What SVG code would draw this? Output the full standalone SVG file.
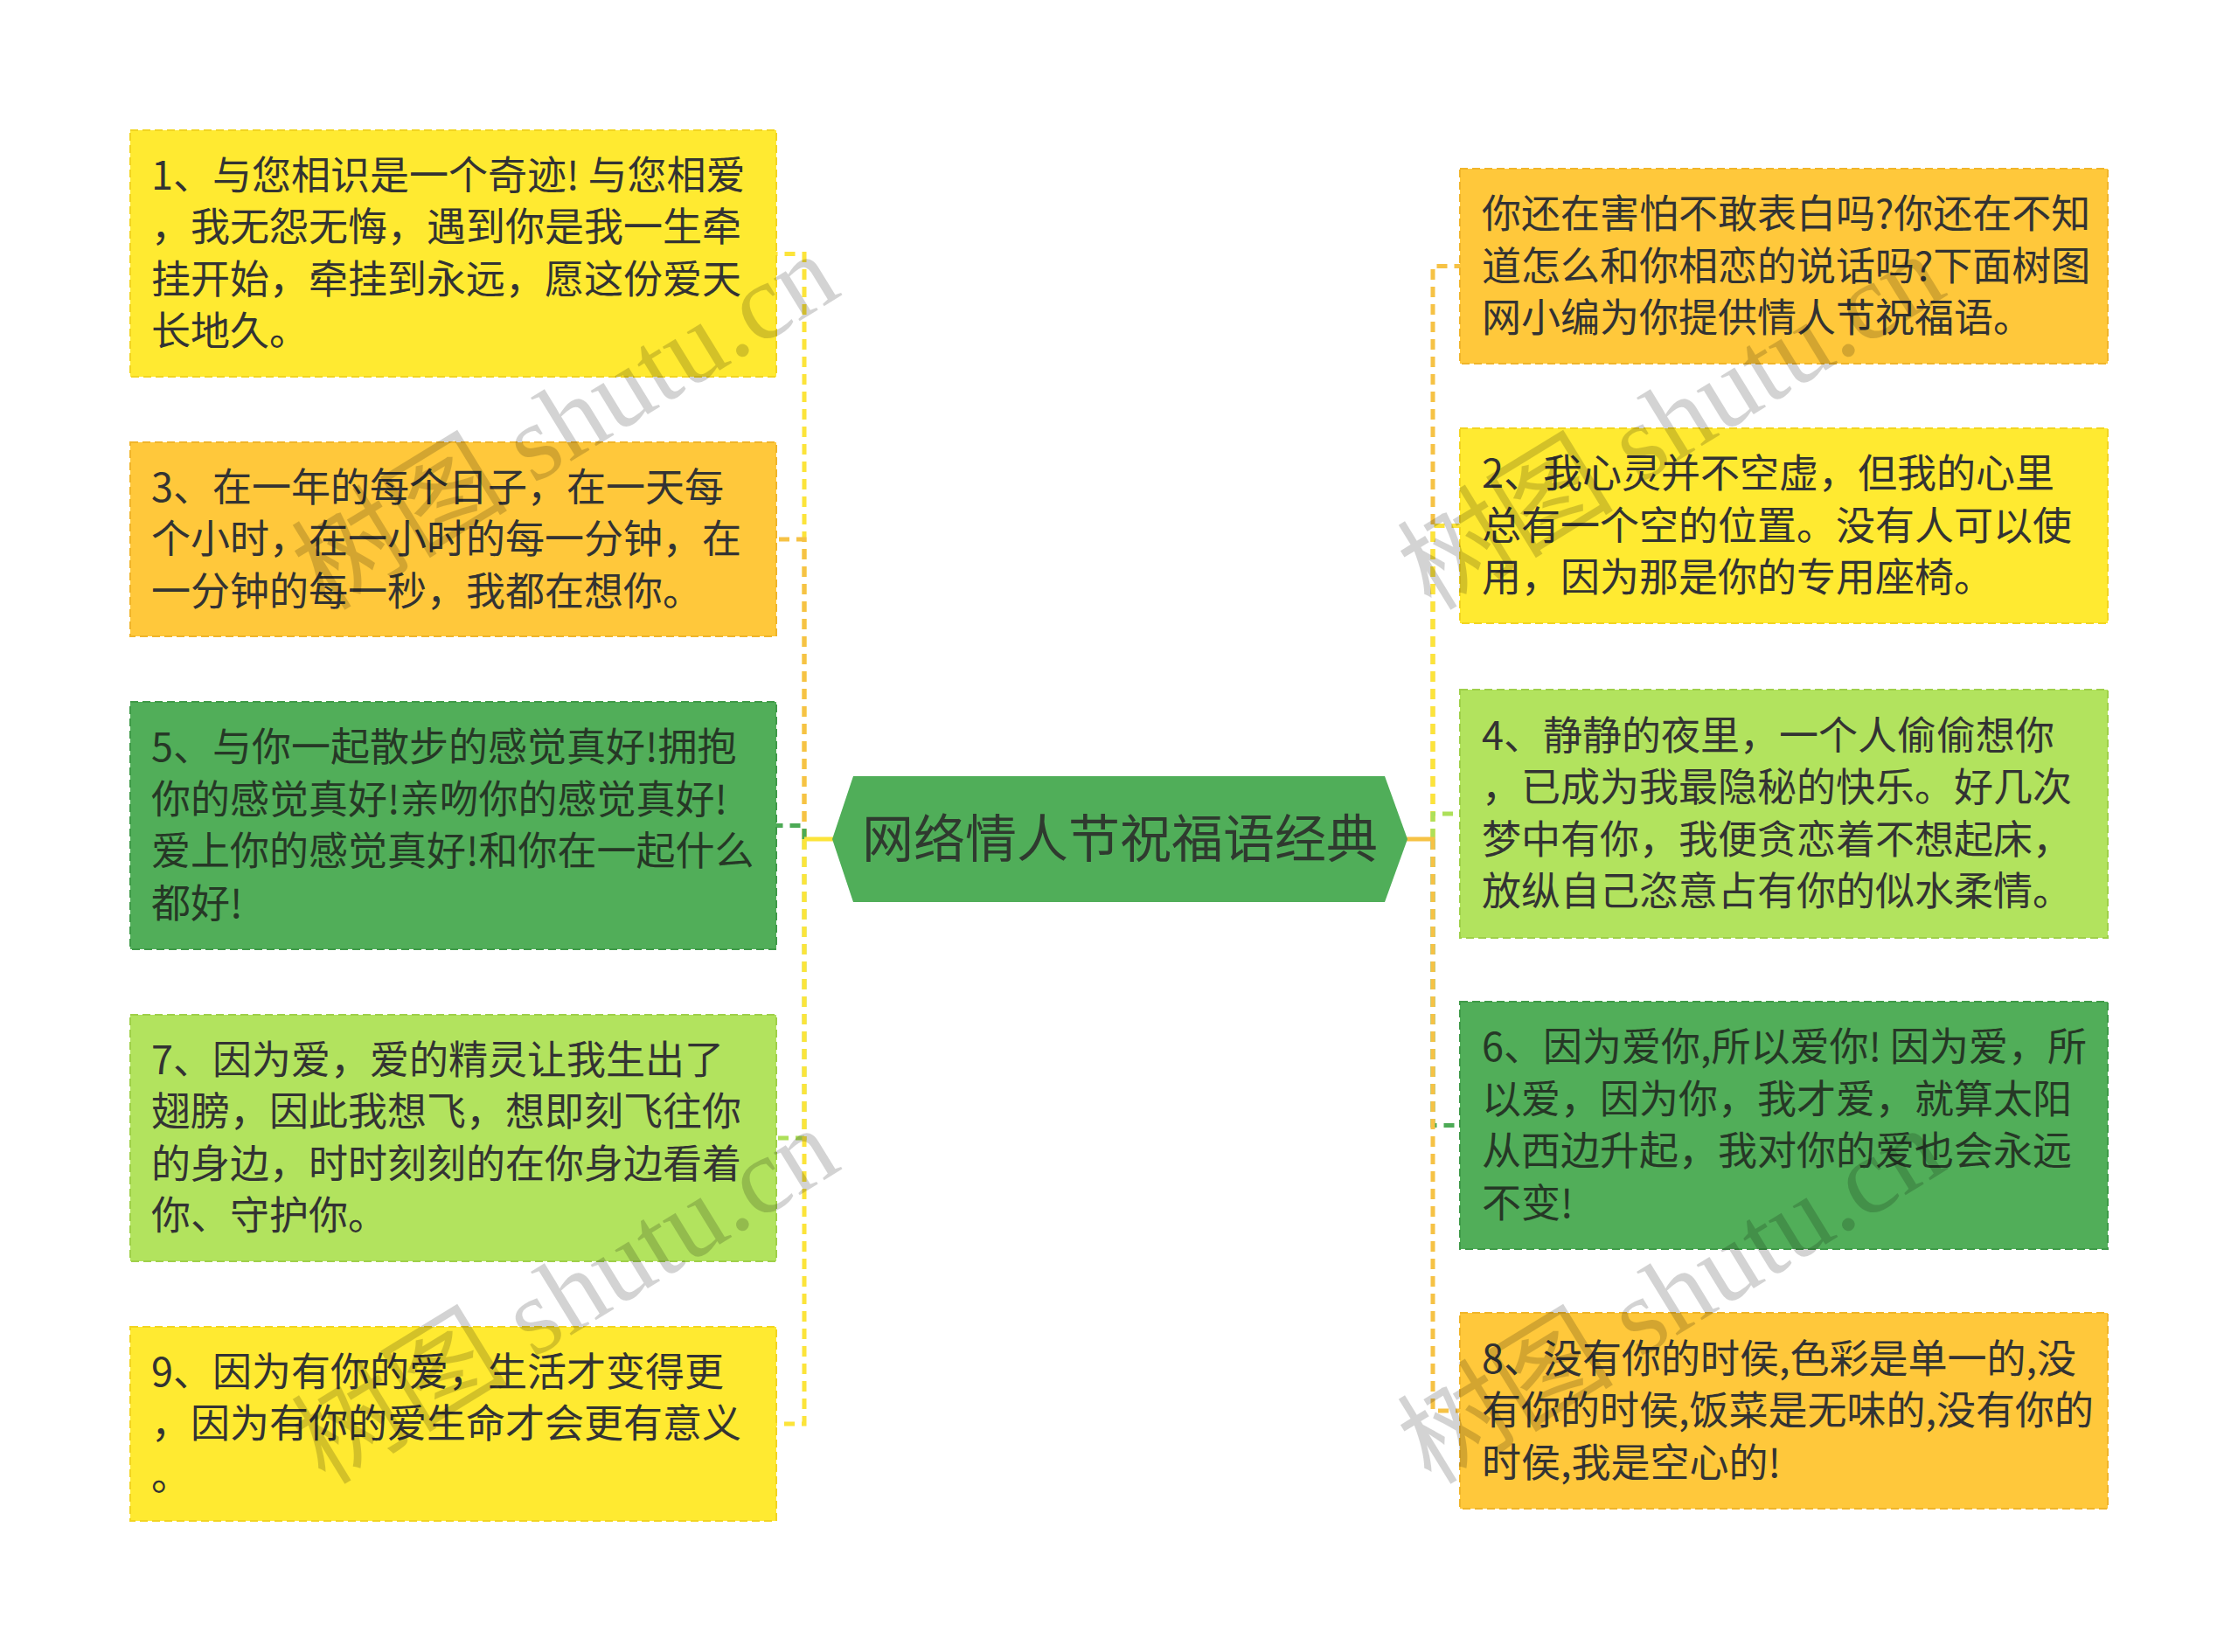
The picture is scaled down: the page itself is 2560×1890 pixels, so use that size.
<svg xmlns="http://www.w3.org/2000/svg" width="2560" height="1890" viewBox="0 0 2560 1890">
<style>
.t{font-family:"Noto Sans CJK SC","Noto Sans",sans-serif;font-size:45px;fill:#333333}
.tg{fill:#263826}
.ct{font-family:"Noto Sans CJK SC","Noto Sans",sans-serif;font-size:59px;fill:#2f3a2f;text-anchor:middle}
.box{stroke-width:2;stroke-dasharray:9 5}
.y{fill:#ffea31;stroke:#f2d521}
.o{fill:#ffc83b;stroke:#f0b52a}
.g{fill:#51ae59;stroke:#3f9a48}
.l{fill:#b2e35e;stroke:#9fd049}
.c{fill:none;stroke-width:5;stroke-dasharray:12 8}
.cy{stroke:#fce43a}.co{stroke:#f6c245}.cg{stroke:#4caa55}.cl{stroke:#ade05a}
.wm{font-family:"Liberation Serif","Noto Sans CJK SC",serif;font-size:124px;fill:#000;opacity:0.17}
</style>
<rect width="2560" height="1890" fill="#ffffff"/>
<g id="connectors">
<path class="c cy" d="M920 960V290.5H888"/>
<path class="c co" d="M920 960V617H888"/>
<path class="c cg" d="M920 960V944.5H888"/>
<path class="c cl" d="M920 960V1302H888"/>
<path class="c cy" d="M920 960V1629H888"/>
<path class="c co" d="M1639 960V304.5H1670"/>
<path class="c cy" d="M1639 960V601.5H1670"/>
<path class="c cl" d="M1639 960V931H1670"/>
<path class="c cg" d="M1639 960V1287.5H1670"/>
<path class="c co" d="M1639 960V1614H1670"/>
<path d="M920 960H954" stroke="#fce43a" stroke-width="5"/>
<path d="M1608 960H1641" stroke="#f6c245" stroke-width="5"/>
</g>
<g id="center">
<polygon points="976,888 1584,888 1610,960 1584,1032 976,1032 952,960" fill="#50ae59"/>
<text class="ct" x="1281" y="981">网络情人节祝福语经典</text>
</g>
<g id="n1">
<rect class="box y" x="149" y="149" width="739" height="282"/>
<text class="t"><tspan x="173" y="216.75">1、与您相识是一个奇迹! 与您相爱</tspan><tspan x="173" y="276.25">，我无怨无悔，遇到你是我一生牵</tspan><tspan x="173" y="335.75">挂开始，牵挂到永远，愿这份爱天</tspan><tspan x="173" y="395.25">长地久。</tspan></text>
</g>
<g id="n3">
<rect class="box o" x="149" y="506" width="739" height="222"/>
<text class="t"><tspan x="173" y="573.5">3、在一年的每个日子，在一天每</tspan><tspan x="173" y="633">个小时，在一小时的每一分钟，在</tspan><tspan x="173" y="692.5">一分钟的每一秒，我都在想你。</tspan></text>
</g>
<g id="n5">
<rect class="box g" x="149" y="803" width="739" height="283"/>
<text class="t tg"><tspan x="173" y="871.25">5、与你一起散步的感觉真好!拥抱</tspan><tspan x="173" y="930.75">你的感觉真好!亲吻你的感觉真好!</tspan><tspan x="173" y="990.25">爱上你的感觉真好!和你在一起什么</tspan><tspan x="173" y="1049.75">都好!</tspan></text>
</g>
<g id="n7">
<rect class="box l" x="149" y="1161" width="739" height="282"/>
<text class="t"><tspan x="173" y="1228.75">7、因为爱，爱的精灵让我生出了</tspan><tspan x="173" y="1288.25">翅膀，因此我想飞，想即刻飞往你</tspan><tspan x="173" y="1347.75">的身边，时时刻刻的在你身边看着</tspan><tspan x="173" y="1407.25">你、守护你。</tspan></text>
</g>
<g id="n9">
<rect class="box y" x="149" y="1518" width="739" height="222"/>
<text class="t"><tspan x="173" y="1585.5">9、因为有你的爱，生活才变得更</tspan><tspan x="173" y="1645">，因为有你的爱生命才会更有意义</tspan><tspan x="173" y="1704.5">。</tspan></text>
</g>
<g id="nt">
<rect class="box o" x="1670" y="193" width="741" height="223"/>
<text class="t"><tspan x="1695" y="261">你还在害怕不敢表白吗?你还在不知</tspan><tspan x="1695" y="320.5">道怎么和你相恋的说话吗?下面树图</tspan><tspan x="1695" y="380">网小编为你提供情人节祝福语。</tspan></text>
</g>
<g id="n2">
<rect class="box y" x="1670" y="490" width="741" height="223"/>
<text class="t"><tspan x="1695" y="558">2、我心灵并不空虚，但我的心里</tspan><tspan x="1695" y="617.5">总有一个空的位置。没有人可以使</tspan><tspan x="1695" y="677">用，因为那是你的专用座椅。</tspan></text>
</g>
<g id="n4">
<rect class="box l" x="1670" y="789" width="741" height="284"/>
<text class="t"><tspan x="1695" y="857.75">4、静静的夜里，一个人偷偷想你</tspan><tspan x="1695" y="917.25">，已成为我最隐秘的快乐。好几次</tspan><tspan x="1695" y="976.75">梦中有你，我便贪恋着不想起床，</tspan><tspan x="1695" y="1036.25">放纵自己恣意占有你的似水柔情。</tspan></text>
</g>
<g id="n6">
<rect class="box g" x="1670" y="1146" width="741" height="283"/>
<text class="t tg"><tspan x="1695" y="1214.25">6、因为爱你,所以爱你! 因为爱，所</tspan><tspan x="1695" y="1273.75">以爱，因为你，我才爱，就算太阳</tspan><tspan x="1695" y="1333.25">从西边升起，我对你的爱也会永远</tspan><tspan x="1695" y="1392.75">不变!</tspan></text>
</g>
<g id="n8">
<rect class="box o" x="1670" y="1502" width="741" height="224"/>
<text class="t"><tspan x="1695" y="1570.5">8、没有你的时侯,色彩是单一的,没</tspan><tspan x="1695" y="1630">有你的时侯,饭菜是无味的,没有你的</tspan><tspan x="1695" y="1689.5">时侯,我是空心的!</tspan></text>
</g>
<g id="watermarks">
<text class="wm" transform="translate(372,700) rotate(-31.5)">树图 shutu.cn</text>
<text class="wm" transform="translate(372,1700) rotate(-31.5)">树图 shutu.cn</text>
<text class="wm" transform="translate(1637,700) rotate(-31.5)">树图 shutu.cn</text>
<text class="wm" transform="translate(1637,1700) rotate(-31.5)">树图 shutu.cn</text>
</g>
</svg>
